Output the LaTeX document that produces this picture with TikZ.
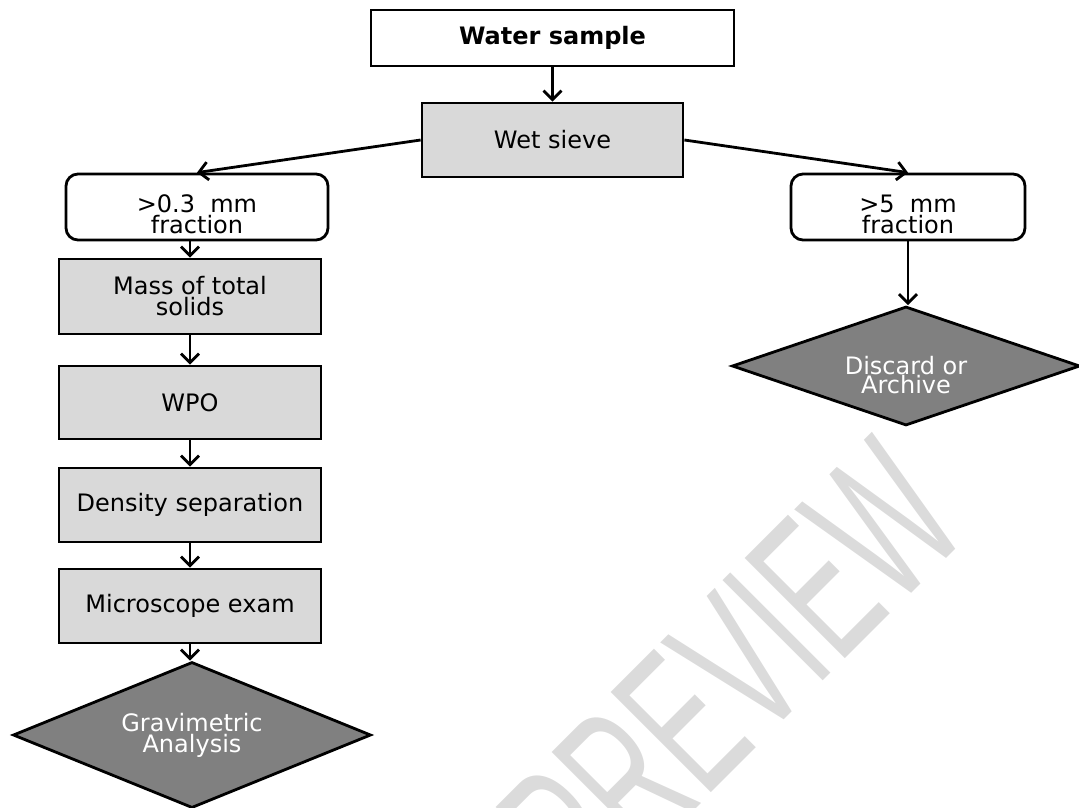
\documentclass[tikz,border=0pt]{standalone}
\usepackage{fontspec}
\setmainfont{DejaVu Sans}
\newfontfamily\wmfont{Liberation Sans}
\usetikzlibrary{shapes.geometric,arrows.meta}
\definecolor{boxgray}{HTML}{D9D9D9}
\definecolor{dgray}{HTML}{808080}
\begin{document}
\begin{tikzpicture}[x=1pt,y=-1pt,
  every node/.style={font=\fontsize{24}{21}\selectfont, inner sep=0pt},
  titlebox/.style={draw, line width=2.8pt, fill=white, minimum width=363pt, minimum height=56pt,
    font=\fontsize{24}{24}\selectfont\bfseries},
  procbox/.style={draw, line width=2.8pt, fill=boxgray, minimum width=262pt, minimum height=74pt, align=center},
  fracbox/.style={draw, line width=2.8pt, fill=white, rounded corners=12pt, minimum width=262pt, minimum height=66pt},
  decision/.style={diamond, aspect=2.5, draw, line width=2.8pt, fill=dgray, text=white, align=center},
  lbl/.style={align=center},
  arr/.style={line width=2.8pt, -{Straight Barb[length=9pt,width=18pt]}}]
\useasboundingbox (0,0) rectangle (1079,808);
% watermark
\node[font=\wmfont, text=black!14, rotate=45, inner sep=0pt] (wm) at (731,673)
  {\scalebox{0.57}[1]{\fontsize{206}{206}\selectfont PREVIEW}};
% nodes
\node[titlebox] (ws) at (552.5,38) {Water sample};
\node[procbox, minimum width=261pt] (sieve) at (552.5,140) {Wet sieve};
\node[fracbox] (f03) at (197,207) {};
\node[lbl] (f03t) at ([yshift=-7pt]f03.center) {>0.3~~mm\\fraction};
\node[fracbox, minimum width=234pt] (f5) at (908,207) {};
\node[lbl] (f5t) at ([yshift=-7pt]f5.center) {>5~~mm\\fraction};
\node[procbox, minimum height=75pt] (mass) at (190,296.5) {Mass of total\\solids};
\node[procbox, minimum height=73pt] (wpo) at (190,402.5) {WPO};
\node[procbox] (dens) at (190,505) {Density separation};
\node[procbox] (micro) at (190,606) {Microscope exam};
\node[decision, minimum width=358pt, minimum height=146pt] (grav) at (192,735) {Gravimetric\\Analysis};
\node[decision, minimum width=348pt, minimum height=119pt] (dis) at (906,366) {};
\node[lbl, text=white] (dist) at ([yshift=-9pt]dis.center) {Discard or\\[-2pt]Archive};
% connectors
\draw[arr] (ws) -- (sieve);
\draw[arr] (sieve.west) -- (f03.north);
\draw[arr] (sieve.east) -- (f5.north);
\draw[arr] (f03.south -| mass.north) -- (mass.north);
\draw[arr] (mass) -- (wpo);
\draw[arr] (wpo) -- (dens);
\draw[arr] (dens) -- (micro);
\draw[arr] (micro.south) -- (micro.south |- grav.north);
\draw[arr] (f5.south) -- (f5.south |- dis.north);
\end{tikzpicture}
\end{document}
